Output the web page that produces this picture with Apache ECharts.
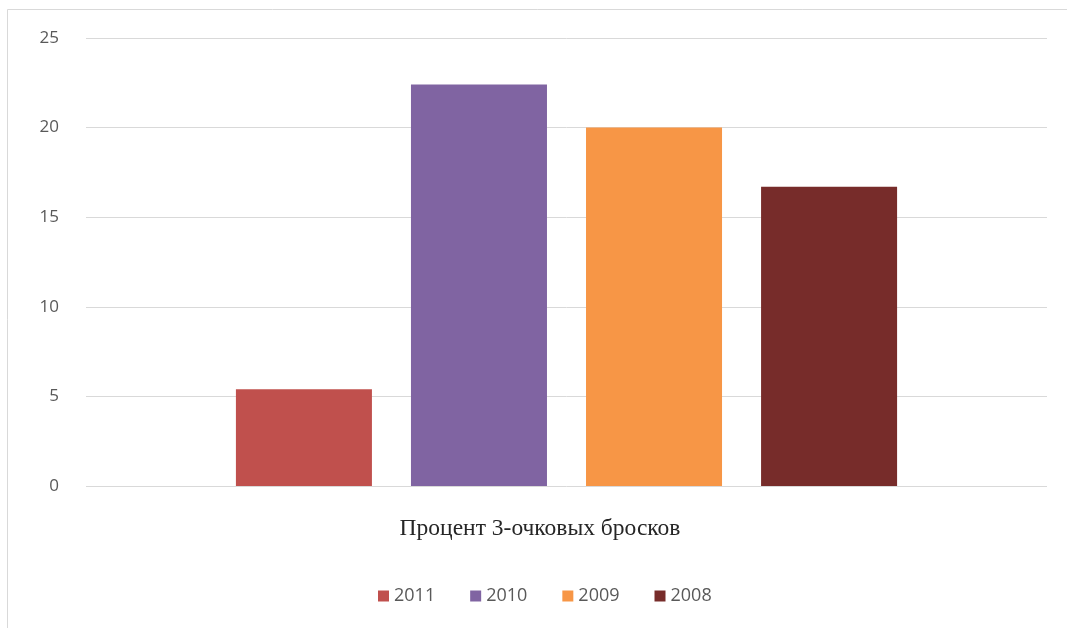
<!DOCTYPE html>
<html>
<head>
<meta charset="utf-8">
<script src="https://cdn.jsdelivr.net/npm/echarts@6/dist/echarts.min.js"></script>
<style>html,body{margin:0;padding:0;background:#fff;}#c{width:1067px;height:628px;}</style>
</head>
<body>
<div id="c"></div>
<script>
var categories = ['Процент 3-очковых бросков'];
var seriesNames = ['2011', '2010', '2009', '2008'];
var values2011 = [5.4];
var values2010 = [22.4];
var values2009 = [20.0];
var values2008 = [16.7];
var yTicks = [0, 5, 10, 15, 20, 25];
var colors = ['#C0504D', '#8064A2', '#F79646', '#772C2A'];

var allValues = [values2011, values2010, values2009, values2008];
var chart = echarts.init(document.getElementById('c'));
chart.setOption({
  animation: false,
  backgroundColor: '#fff',
  graphic: [{
    type: 'rect', silent: true, z: -1,
    shape: { x: 7.5, y: 9.5, width: 1080, height: 640 },
    style: { fill: 'none', stroke: '#d9d9d9', lineWidth: 1 }
  }],
  color: colors,
  legend: {
    left: 373, top: 582,
    itemWidth: 11, itemHeight: 11, itemGap: 35,
    icon: 'rect',
    textStyle: { fontFamily: 'Open Sans', fontSize: 18, color: '#595959' },
    data: seriesNames
  },
  grid: { left: 86, right: 20, top: 38, bottom: 142 },
  xAxis: {
    type: 'category',
    data: categories,
    axisLine: { show: false },
    axisTick: { show: false },
    axisLabel: { margin: 31, fontFamily: 'Liberation Serif', fontSize: 23.5, color: '#262626', padding: [0, 53, 0, 0] }
  },
  yAxis: {
    type: 'value',
    min: yTicks[0], max: yTicks[yTicks.length - 1], interval: 5,
    axisLine: { show: false },
    axisTick: { show: false },
    splitLine: { lineStyle: { color: '#d9d9d9', width: 1 } },
    axisLabel: { margin: 27, fontFamily: 'Open Sans', fontSize: 17, color: '#595959' }
  },
  series: seriesNames.map(function (n, i) {
    return {
      name: n, type: 'bar', data: allValues[i],
      barGap: '28.7%', barCategoryGap: '31.2%',
      itemStyle: { color: colors[i] }
    };
  })
});
</script>
</body>
</html>
